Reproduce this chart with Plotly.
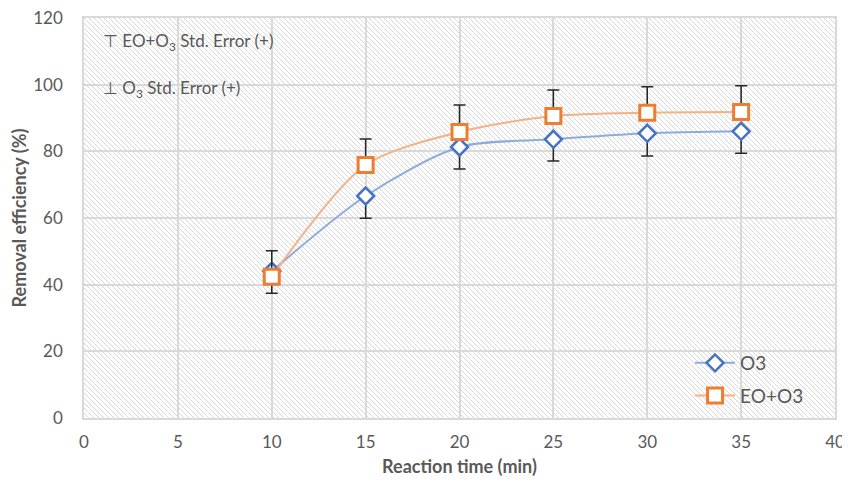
import plotly.graph_objects as go
import base64

time_min = [10, 15, 20, 25, 30, 35]
o3 = [44.0, 66.6, 81.3, 83.6, 85.4, 86.0]
o3_err = [6.6, 6.7, 6.6, 6.5, 6.8, 6.6]
eo_o3 = [42.4, 75.9, 85.8, 90.6, 91.6, 91.8]
eo_o3_err = [7.8, 7.8, 8.1, 7.8, 7.8, 7.9]

x_ticks = [0, 5, 10, 15, 20, 25, 30, 35, 40]
y_ticks = [0, 20, 40, 60, 80, 100, 120]

# page has an 8px body margin, so the figure is offset inside the window
W, H = 842, 469
ML, MR, MT, MB = 76, 15, 10, 59
PW, PH = W - ML - MR, H - MT - MB

font_fam = "Lato, Open Sans, sans-serif"
gray = "#595959"

# hatch background (decoration)
svg = (
    f'<svg xmlns="http://www.w3.org/2000/svg" width="{PW}" height="{PH}" viewBox="0 0 {PW} {PH}" preserveAspectRatio="none">'
    '<defs><pattern id="p" width="5" height="5" patternUnits="userSpaceOnUse">'
    '<rect width="5" height="5" fill="white"/>'
    '<path d="M-1,-1 L6,6 M-1,4 L1,6 M4,-1 L6,1" stroke="#d8d8d8" stroke-width="1"/>'
    '</pattern></defs>'
    f'<rect width="{PW}" height="{PH}" fill="url(#p)"/></svg>'
)
svg_uri = "data:image/svg+xml;base64," + base64.b64encode(svg.encode()).decode()

fig = go.Figure()

fig.add_trace(go.Scatter(
    x=time_min, y=o3, name="O3", mode="lines+markers", legendgroup="a",
    line=dict(color="#8FAADC", width=2, shape="spline", smoothing=0.8),
    marker=dict(symbol="diamond", size=13, color="white",
                line=dict(color="#4472C4", width=2.5)),
    error_y=dict(type="data", array=[0]*len(o3_err), arrayminus=o3_err,
                 symmetric=False, color="#262626", thickness=1.5, width=6),
))
fig.add_trace(go.Scatter(
    x=time_min, y=eo_o3, name="EO+O3", mode="lines+markers", legendgroup="b",
    line=dict(color="#F4B183", width=2, shape="spline", smoothing=0.8),
    marker=dict(symbol="square", size=15, color="white",
                line=dict(color="#ED7D31", width=3)),
    error_y=dict(type="data", array=eo_o3_err, arrayminus=[0]*len(eo_o3_err),
                 symmetric=False, color="#262626", thickness=1.5, width=6),
))

fig.add_layout_image(dict(
    source=svg_uri, xref="paper", yref="paper", x=0, y=1,
    sizex=1, sizey=1, sizing="stretch", layer="below",
    xanchor="left", yanchor="top",
))

fig.add_annotation(
    text="⊤ EO+O<sub>3</sub> Std. Error (+)", xref="paper", yref="paper",
    x=0.022, y=0.94, xanchor="left", yanchor="middle", showarrow=False,
    font=dict(family=font_fam, size=17, color=gray),
)
fig.add_annotation(
    text="⊥ O<sub>3</sub> Std. Error (+)", xref="paper", yref="paper",
    x=0.022, y=0.822, xanchor="left", yanchor="middle", showarrow=False,
    font=dict(family=font_fam, size=17, color=gray),
)

fig.update_layout(
    width=W, height=H,
    margin=dict(l=ML, r=MR, t=MT, b=MB, autoexpand=False),
    paper_bgcolor="white",
    plot_bgcolor="rgba(0,0,0,0)",
    font=dict(family=font_fam, color=gray),
    showlegend=True,
    legend=dict(x=0.807, y=0.185, xanchor="left", yanchor="top",
                bgcolor="rgba(0,0,0,0)", font=dict(size=19, color=gray),
                itemwidth=40, tracegroupgap=5),
    xaxis=dict(
        range=[0, 40], tickvals=x_ticks, ticktext=[str(v) for v in x_ticks],
        automargin=False, ticklabeloverflow="allow",
        showgrid=True, gridcolor="#D9D9D9", gridwidth=1.5,
        showline=True, linecolor="#D9D9D9", linewidth=1.5, mirror=True,
        zeroline=False, ticks="", ticklabelstandoff=8,
        tickfont=dict(size=17, color=gray),
        title=dict(text="<b>Reaction time (min)</b>", font=dict(size=18, color=gray), standoff=14),
    ),
    yaxis=dict(
        range=[0, 120], tickvals=y_ticks, ticktext=[str(v) for v in y_ticks],
        automargin=False, ticklabeloverflow="allow",
        showgrid=True, gridcolor="#D9D9D9", gridwidth=1.5,
        showline=True, linecolor="#D9D9D9", linewidth=1.5, mirror=True,
        zeroline=False, ticks="", ticklabelstandoff=16,
        tickfont=dict(size=17, color=gray),
        title=dict(text="<b>Removal efficiency (%)</b>", font=dict(size=18, color=gray), standoff=8),
    ),
)

fig.write_html("out.html")
